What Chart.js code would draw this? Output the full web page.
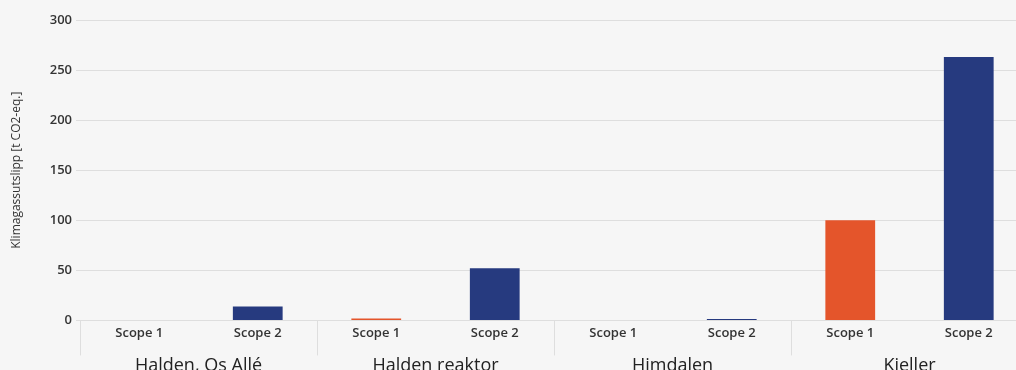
<!DOCTYPE html>
<html>
<head>
<meta charset="utf-8">
<script src="https://cdn.jsdelivr.net/npm/chart.js@4"></script>
<style>
  html, body { margin: 0; padding: 0; background: #f6f6f6; overflow: hidden; }
  #wrap { position: relative; width: 1030px; height: 378px; }
</style>
</head>
<body>
<div id="wrap"><canvas id="chart"></canvas></div>
<script>
// Chart data
const groups = ['Halden, Os Allé', 'Halden reaktor', 'Himdalen', 'Kjeller'];
const scopes = ['Scope 1', 'Scope 2'];
const scope1Values = [0, 2, 0, 100];
const scope2Values = [14, 52, 1.5, 263];
const yTicks = [0, 50, 100, 150, 200, 250, 300];

const scope1Color = '#e4552b';
const scope2Color = '#263a7f';
const gridColor = '#dedede';

// one bar per group/scope pair
const barLabels = [];
const barValues = [];
const barColors = [];
groups.forEach((g, i) => {
    barLabels.push(scopes[0], scopes[1]);
    barValues.push(scope1Values[i], scope2Values[i]);
    barColors.push(scope1Color, scope2Color);
});

const ctx = document.getElementById('chart').getContext('2d');
new Chart(ctx, {
    type: 'bar',
    data: {
        labels: barLabels,
        datasets: [{
            data: barValues,
            backgroundColor: barColors,
            borderWidth: 0,
            categoryPercentage: 1,
            barPercentage: 0.42
        }]
    },
    options: {
        responsive: true,
        maintainAspectRatio: false,
        animation: false,
        layout: { padding: { top: 20, right: 2, left: 0, bottom: 1 } },
        plugins: {
            legend: { display: false },
            tooltip: { enabled: false }
        },
        scales: {
            y: {
                min: 0,
                max: 300,
                afterBuildTicks: (scale) => {
                    scale.ticks = yTicks.map(v => ({ value: v }));
                },
                afterFit: (scale) => { scale.width = 80; },
                border: { display: false },
                grid: { color: gridColor, tickLength: 4, lineWidth: 1 },
                ticks: {
                    padding: 4,
                    color: '#333',
                    font: { family: 'Open Sans', size: 13, weight: '600' }
                },
                title: {
                    display: true,
                    text: 'Klimagassutslipp [t CO2-eq.]',
                    color: '#333',
                    padding: { top: 9, bottom: 0 },
                    font: { family: 'Open Sans', size: 12 }
                }
            },
            // scope labels, with group separators running through the row
            x: {
                weight: 0,
                border: { display: true, color: gridColor },
                afterFit: (scale) => { scale.height = 24; },
                grid: {
                    drawOnChartArea: false,
                    tickLength: 24,
                    color: (c) => (c.index !== undefined && c.index % 2 === 0) ? gridColor : 'rgba(0,0,0,0)'
                },
                ticks: {
                    padding: -19,
                    maxRotation: 0,
                    autoSkip: false,
                    color: '#333',
                    font: { family: 'Open Sans', size: 13, weight: '600' }
                }
            },
            xGroup: {
                type: 'category',
                position: 'bottom',
                weight: 1,
                labels: groups,
                offset: true,
                border: { display: false },
                grid: {
                    offset: true,
                    drawOnChartArea: false,
                    tickLength: 11,
                    color: gridColor
                },
                ticks: {
                    padding: 0,
                    maxRotation: 0,
                    autoSkip: false,
                    color: '#222',
                    font: { family: 'Open Sans', size: 18 }
                }
            }
        }
    }
});
</script>
</body>
</html>
